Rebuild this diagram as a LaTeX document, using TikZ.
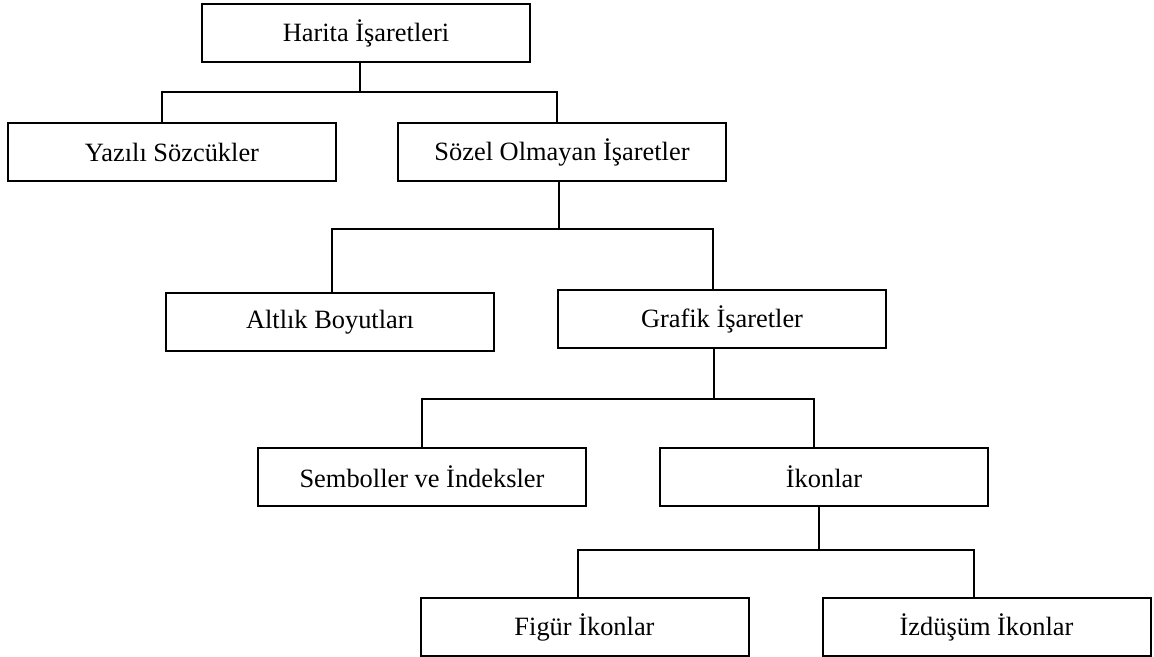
\documentclass[tikz,border=0pt]{standalone}
\usepackage{fontspec}
\setmainfont{Liberation Serif}
\usetikzlibrary{positioning}

\begin{document}
\begin{tikzpicture}[
        every node/.style={font=\fontsize{13.2}{15}\selectfont},
        catbox/.style={draw, line width=1pt, minimum width=164pt, minimum height=29pt, inner sep=0pt, outer sep=0pt, align=center},
        conn/.style={line width=1pt},
    ]
    \useasboundingbox (-183pt,16.75pt) rectangle (394pt,-311.75pt);

    %% ===== Root =====
    \node[catbox] (harita) at (0,0) {Harita İşaretleri};

    %% ===== Level 1 =====
    \node[catbox, below=30.5pt of harita, xshift=-97pt] (yazili) {Yazılı Sözcükler};
    \node[catbox, right=31pt of yazili] (sozel) {Sözel Olmayan İşaretler};

    \draw[conn] ([xshift=-3pt]harita.south) -- ++(0,-15pt) coordinate (j1) -| ([xshift=-5pt]yazili.north);
    \draw[conn] (j1) -| ([xshift=-2.75pt]sozel.north);

    %% ===== Level 2 =====
    \node[catbox, below=56pt of sozel, xshift=-116pt] (altlik) {Altlık Boyutları};
    \node[catbox, right=32pt of altlik, yshift=1.75pt] (grafik) {Grafik İşaretler};

    \draw[conn] ([xshift=-1.75pt]sozel.south) -- ++(0,-24pt) coordinate (j2) -| ([xshift=0.75pt]altlik.north);
    \draw[conn] (j2) -| ([xshift=-4.75pt]grafik.north);

    %% ===== Level 3 =====
    \node[catbox, below=50pt of grafik, xshift=-150pt] (semboller) {Semboller ve İndeksler};
    \node[catbox, right=37pt of semboller] (ikonlar) {İkonlar};

    \draw[conn] ([xshift=-4.25pt]grafik.south) -- ++(0,-25.5pt) coordinate (j3) -| (semboller.north);
    \draw[conn] (j3) -| ([xshift=-5.25pt]ikonlar.north);

    %% ===== Level 4 =====
    \node[catbox, below=46pt of ikonlar, xshift=-119.75pt] (figur) {Figür İkonlar};
    \node[catbox, right=37pt of figur] (izdusum) {İzdüşüm İkonlar};

    \draw[conn] ([xshift=-2.75pt]ikonlar.south) -- ++(0,-22pt) coordinate (j4) -| ([xshift=-3.5pt]figur.north);
    \draw[conn] (j4) -| ([xshift=-6.25pt]izdusum.north);

\end{tikzpicture}
\end{document}
